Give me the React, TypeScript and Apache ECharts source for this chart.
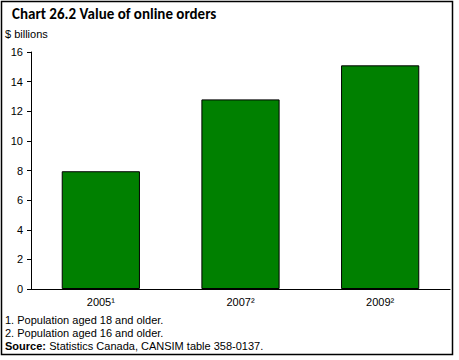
import React, { useEffect, useRef } from "react";
import * as echarts from "echarts";

const categories = ["2005¹", "2007²", "2009²"];
const values = [7.95, 12.8, 15.1];
const yTicks = [0, 2, 4, 6, 8, 10, 12, 14, 16];
const titleText = "Chart 26.2 Value of online orders";
const unitText = "$ billions";
const notes = ["1. Population aged 18 and older.", "2. Population aged 16 and older."];
const sourceText = "Statistics Canada, CANSIM table 358-0137.";

const FONT = "Arial, 'Liberation Sans', sans-serif";

export default function App() {
  const ref = useRef<HTMLDivElement>(null);
  useEffect(() => {
    const chart = echarts.init(ref.current!, null, { renderer: "svg" });
    chart.setOption({
      animation: false,
      backgroundColor: "#ffffff",
      grid: { left: 31, right: 9, top: 52, bottom: 71, containLabel: false },
      xAxis: {
        type: "category",
        data: categories,
        axisLine: { show: true, lineStyle: { color: "#000", width: 1 } },
        axisTick: { show: false },
        axisLabel: { color: "#000", fontFamily: FONT, fontSize: 11, margin: 7 },
      },
      yAxis: {
        type: "value",
        min: yTicks[0],
        max: yTicks[yTicks.length - 1],
        interval: 2,
        axisLine: { show: true, lineStyle: { color: "#000", width: 1 } },
        axisTick: { show: true, inside: false, length: 4, lineStyle: { color: "#000" } },
        splitLine: { show: false },
        axisLabel: { color: "#000", fontFamily: FONT, fontSize: 11, margin: 8 },
      },
      series: [
        {
          type: "bar",
          data: values,
          barWidth: "56%",
          itemStyle: { color: "#008000", borderColor: "#000", borderWidth: 1 },
        },
      ],
      graphic: [
        {
          type: "rect",
          shape: { x: 1.5, y: 1.5, width: 451, height: 353 },
          style: { fill: "none", stroke: "#000", lineWidth: 1.5 },
          silent: true,
        },
        {
          type: "text",
          left: 12,
          top: 6,
          style: { text: titleText, font: "bold 15px Carlito, 'Liberation Sans', Arial, sans-serif", fill: "#000" },
        },
        {
          type: "text",
          left: 5,
          top: 28,
          style: { text: unitText, font: "11px " + FONT, fill: "#000" },
        },
        {
          type: "text",
          left: 5,
          top: 314,
          style: { text: notes[0], font: "11px " + FONT, fill: "#000" },
        },
        {
          type: "text",
          left: 5,
          top: 327,
          style: { text: notes[1], font: "11px " + FONT, fill: "#000" },
        },
        {
          type: "text",
          left: 5,
          top: 340,
          style: {
            text: "{b|Source:} {n|" + sourceText + "}",
            rich: {
              b: { fontFamily: FONT, fontSize: 11, fontWeight: "bold", fill: "#000" },
              n: { fontFamily: FONT, fontSize: 11, fill: "#000" },
            },
          },
        },
      ],
    });
    return () => chart.dispose();
  }, []);
  return (
    <div
      ref={ref}
      style={{ position: "absolute", left: 0, top: 0, width: 459, height: 360 }}
    />
  );
}
